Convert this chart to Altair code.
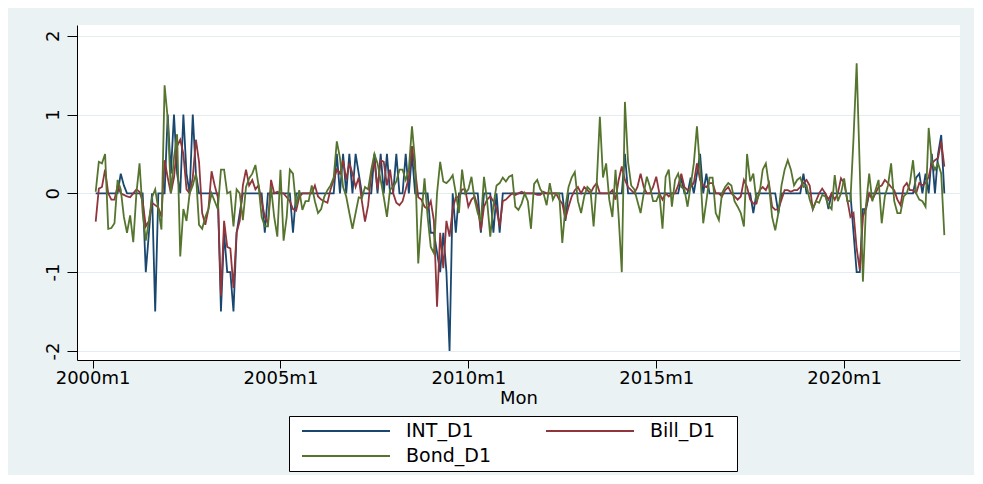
import altair as alt
import pandas as pd

series_names = ["INT_D1", "Bill_D1", "Bond_D1"]
series_colors = ["#1a476f", "#90353b", "#55752f"]
first_month = 1          # month index of first observation (0 = 2000m1) -> 2000m2
tick_months = [0, 60, 120, 180, 240]
y_ticks = [-2, -1, 0, 1, 2]

# INT_D1, 2000m2 .. 2022m9 (one row per calendar year)
int_d1 = (
    [0, 0, 0, 0, 0, 0, 0, 0, 0.25, 0.1, 0]
    + [0, 0, 0, 0, 0, -1.0, -0.5, 0, -1.5, 0, 0, 0]
    + [1.0, 0.25, 1.0, 0.25, 0, 1.0, 0.25, 0, 1.0, 0.25, 0, 0]
    + [0, 0, 0, 0, 0, -1.5, -0.5, -1.0, -1.0, -1.5, -0.5, -0.25]
    + [0, 0, 0, 0, 0, 0, 0, -0.5, 0, 0, 0, 0]
    + [0, 0, 0, 0, -0.5, 0, 0, 0, 0, 0, 0, 0]
    + [0, 0, 0, 0, 0, 0, 0.5, 0, 0.5, 0, 0.5, 0]
    + [0.5, 0.25, 0, 0, 0, 0, 0.5, 0, 0.5, 0, 0.5, 0]
    + [0, 0.5, 0, 0, 0.5, 0, 0.5, 0, 0, 0, 0, 0]
    + [-0.5, -0.5, -0.75, -1.0, -0.5, -1.0, -2.0, 0, -0.5, 0, 0, 0]
    + [0, 0, 0, 0, -0.5, 0, 0, 0, -0.5, 0, -0.5, 0]
    + [0, 0, 0, 0, 0, 0, 0, 0, 0, 0, 0, 0]
    + [0, 0, 0, 0, 0, 0, 0, -0.35, 0, 0, 0, 0]
    + [0, 0, 0, 0, 0, 0, 0, 0, 0, 0, 0, 0]
    + [0, 0, 0.5, 0, 0, 0, 0, 0, 0, 0, 0, 0]
    + [0, 0, 0, 0, 0, 0, 0, 0, 0.2, 0, 0, 0.2]
    + [0, 0.25, 0.5, 0, 0.25, 0, 0, 0, 0, 0, 0, 0]
    + [0, 0, 0, 0, 0, 0, 0, -0.25, 0, 0, 0, 0]
    + [0, 0, 0, -0.25, 0, 0, 0, 0, 0, 0, 0, 0.25]
    + [0, 0, 0, 0, 0, 0, 0, -0.2, 0, 0, 0, 0]
    + [0, 0, 0, -0.5, -1.0, -1.0, -0.2, -0.2, 0, 0, 0, 0]
    + [0, 0, 0, 0, 0, 0, 0, 0, 0, 0, 0, 0.2]
    + [0.25, 0, 0.25, 0, 0.5, 0, 0.5, 0.74, 0]
)

# Bill_D1
bill_d1 = (
    [-0.36, 0.06, 0.08, 0.3, 0.0, -0.08, -0.08, 0.1, 0.0, -0.02, -0.04]
    + [-0.05, 0.0, 0.05, 0.02, -0.1, -0.42, -0.35, -0.12, -0.15, -0.18, -0.3, 0.42]
    + [0.2, 0.0, 0.2, 0.6, 0.68, 0.5, 0.05, 0.0, 0.2, 0.68, 0.4, -0.25]
    + [-0.4, -0.2, 0.28, 0.1, -0.05, -1.3, -0.35, -0.68, -0.7, -1.2, -0.5, -0.35]
    + [0.1, 0.3, 0.1, 0.17, 0.05, 0.1, -0.1, -0.3, -0.38, 0.17, 0.0, 0.02]
    + [0.0, 0.0, -0.05, -0.1, -0.2, -0.22, -0.05, 0.0, 0.0, 0.0, 0.0, 0.1]
    + [-0.04, -0.08, -0.1, -0.12, 0.05, 0.17, 0.3, 0.25, 0.42, 0.17, 0.38, 0.25]
    + [0.08, 0.2, -0.1, -0.36, -0.15, 0.25, 0.42, 0.05, 0.42, 0.4, 0.1, 0.3]
    + [0.0, -0.12, -0.15, -0.1, 0.05, 0.2, 0.6, 0.3, -0.05, -0.08, -0.17, -0.2]
    + [-0.1, -0.35, -1.44, -0.5, -0.95, -0.35, -0.55, -0.2, -0.05, -0.05, 0.05, 0.05]
    + [-0.17, -0.08, -0.04, -0.17, -0.47, -0.17, -0.08, -0.04, -0.1, -0.2, -0.42, -0.1]
    + [-0.08, -0.04, 0.0, -0.02, 0.0, 0.02, 0.0, 0.0, 0.0, 0.0, -0.02, -0.02]
    + [0.02, 0.0, 0.0, 0.0, 0.0, -0.08, -0.13, -0.32, -0.17, -0.04, 0.04, 0.08]
    + [0.0, 0.08, 0.04, 0.0, 0.08, 0.13, 0.0, 0.0, 0.0, 0.0, 0.04, -0.08]
    + [0.17, 0.34, 0.17, 0.08, 0.04, 0.0, 0.08, 0.25, 0.08, 0.0, 0.0, 0.08]
    + [0.21, 0.0, -0.08, 0.0, -0.04, 0.0, 0.0, 0.1, 0.25, 0.08, 0.04, 0.08]
    + [0.13, 0.38, 0.17, 0.1, 0.08, 0.13, 0.13, 0.0, 0.0, -0.04, 0.04, 0.08]
    + [0.0, -0.04, -0.08, -0.04, 0.17, 0.08, -0.08, -0.13, -0.13, 0.04, 0.08, 0.04]
    + [0.13, -0.17, -0.21, -0.2, -0.08, 0.04, 0.04, 0.02, 0.04, 0.04, 0.08, 0.13]
    + [0.17, 0.1, -0.2, -0.1, 0.0, 0.06, 0.0, -0.08, 0.0, -0.08, 0.0, 0.19]
    + [0.13, -0.08, -0.3, -0.25, -0.7, -0.97, -0.3, -0.17, 0.0, -0.08, 0.0, 0.08]
    + [0.1, 0.17, 0.13, 0.08, 0.04, -0.08, -0.15, 0.08, 0.13, 0.04, 0.04, 0.0]
    + [0.13, 0.1, 0.13, 0.21, 0.38, 0.42, 0.45, 0.66, 0.34]
)

# Bond_D1
bond_d1 = (
    [0.02, 0.4, 0.38, 0.5, -0.45, -0.44, -0.38, 0.17, 0.05, -0.3, -0.5]
    + [-0.28, -0.62, 0.0, 0.38, -0.25, -0.6, -0.35, -0.05, 0.05, -0.2, -0.46, 1.37]
    + [0.95, 0.0, 0.45, 0.75, -0.8, -0.2, -0.35, 0.0, 0.1, 0.25, -0.4, -0.45]
    + [-0.3, -0.2, 0.0, -0.1, -0.2, 0.3, 0.3, 0.0, 0.02, -0.42, 0.05, 0.0]
    + [-0.34, 0.08, 0.19, 0.25, 0.36, 0.1, -0.3, -0.42, -0.42, 0.08, -0.3, -0.55]
    + [0.3, -0.6, -0.3, 0.3, 0.25, -0.17, 0.04, -0.21, -0.1, -0.1, 0.1, -0.1]
    + [-0.25, -0.2, -0.04, 0.04, 0.1, 0.2, 0.66, 0.45, 0.08, -0.04, -0.25, -0.45]
    + [-0.25, -0.05, -0.06, 0.08, 0.05, 0.3, 0.5, 0.38, 0.17, -0.05, -0.3, 0.05]
    + [0.08, 0.15, 0.3, 0.3, 0.17, 0.3, 0.85, 0.4, -0.89, -0.3, 0.19, -0.3]
    + [-0.68, -0.76, 0.0, 0.4, 0.15, 0.13, 0.17, 0.23, 0.0, -0.25, 0.3, 0.0]
    + [0.05, 0.21, -0.08, -0.25, -0.36, 0.21, -0.1, -0.55, -0.15, 0.1, 0.13, 0.2]
    + [0.15, 0.21, 0.23, -0.17, -0.21, -0.13, 0.0, -0.1, -0.45, 0.12, 0.17, 0.05]
    + [0.0, -0.15, 0.13, -0.08, 0.0, 0.0, -0.63, -0.17, 0.08, 0.2, 0.27, -0.1]
    + [-0.25, -0.04, 0.08, 0.04, -0.42, 0.13, 0.97, 0.2, 0.38, -0.08, -0.3, 0.3]
    + [-0.3, -1.0, 1.16, 0.4, 0.1, 0.05, -0.1, -0.25, 0.0, 0.21, 0.08, -0.1]
    + [-0.1, 0.0, -0.45, 0.21, 0.3, -0.17, 0.17, 0.25, 0.08, 0.05, -0.17, 0.1]
    + [0.38, 0.85, 0.3, -0.38, -0.1, 0.2, 0.2, -0.25, -0.34, 0.0, 0.08, 0.13]
    + [0.1, -0.1, -0.17, -0.25, -0.42, 0.5, 0.15, 0.25, -0.1, 0.0, 0.3, 0.38]
    + [0.1, -0.3, -0.47, -0.25, 0.1, 0.3, 0.42, 0.3, 0.1, 0.17, 0.2, 0.08]
    + [0.1, -0.08, -0.2, -0.1, -0.12, -0.02, -0.04, -0.15, -0.2, 0.23, -0.1, 0.0]
    + [0.19, -0.1, -0.1, 0.7, 1.65, 0.3, -1.12, -0.15, 0.25, -0.1, 0.04, 0.17]
    + [-0.38, -0.04, 0.1, 0.38, -0.1, -0.25, -0.25, -0.04, 0.0, 0.13, 0.42, 0.0]
    + [-0.08, -0.1, -0.17, 0.83, 0.4, 0.3, 0.38, 0.25, -0.53]
)

rows = []
for name, vals in zip(series_names, [int_d1, bill_d1, bond_d1]):
    for i, v in enumerate(vals):
        rows.append({"Mon": first_month + i, "series": name, "value": v})
df = pd.DataFrame(rows)

FONT = "DejaVu Sans"

color = alt.Color(
    "series:N",
    scale=alt.Scale(domain=series_names, range=series_colors),
    legend=alt.Legend(
        title="\u00a0", titleOrient="right", titlePadding=18, titleFontSize=8,
        orient="none", legendX=212, legendY=391, columns=2,
        direction="horizontal",
        symbolType="stroke", symbolSize=7744, symbolStrokeWidth=2, symbolOffset=8,
        labelOffset=15, labelFontSize=19, labelFont=FONT, labelColor="black",
        columnPadding=46, rowPadding=3, clipHeight=22, padding=4,
        strokeColor="black", fillColor="white", labelLimit=0,
    ),
)

x = alt.X(
    "Mon:Q",
    scale=alt.Scale(domain=[-4.97, 277.0], nice=False, zero=False),
    axis=alt.Axis(
        values=tick_months, labelExpr="(2000 + datum.value / 12) + 'm1'",
        title="Mon", grid=False, tickSize=8, tickColor="black", domainColor="black",
        labelFont=FONT, labelFontSize=18, labelColor="black", labelPadding=1,
        titleFont=FONT, titleFontSize=18, titleColor="black", titleFontWeight="normal",
        titlePadding=2, labelFlush=False,
    ),
)
y = alt.Y(
    "value:Q",
    scale=alt.Scale(domain=[-2.115, 2.136], nice=False, zero=False),
    axis=alt.Axis(
        values=y_ticks, labelExpr="'' + datum.value", title=None, labelAngle=-90,
        grid=True, gridColor="#e4ecef", gridWidth=1, tickSize=10, tickColor="black",
        domainColor="black", labelFont=FONT, labelFontSize=18, labelColor="black",
        labelPadding=5,
    ),
)

base = alt.Chart(df)
layers = [
    base.transform_filter(alt.datum.series == n)
    .mark_line(strokeWidth=1.8, clip=True)
    .encode(x=x, y=y, color=color, detail="series:N")
    for n in series_names
]

chart = (
    alt.layer(*layers)
    .properties(
        width=883, height=335,
        autosize=alt.AutoSizeParams(type="none"),
        padding={"left": 69, "top": 17, "right": 14, "bottom": 115},
        background="#EAF2F3",
    )
    .configure_view(fill="white", stroke=None)
)

chart.save("out.html", embed_options={"renderer": "svg", "actions": False})
